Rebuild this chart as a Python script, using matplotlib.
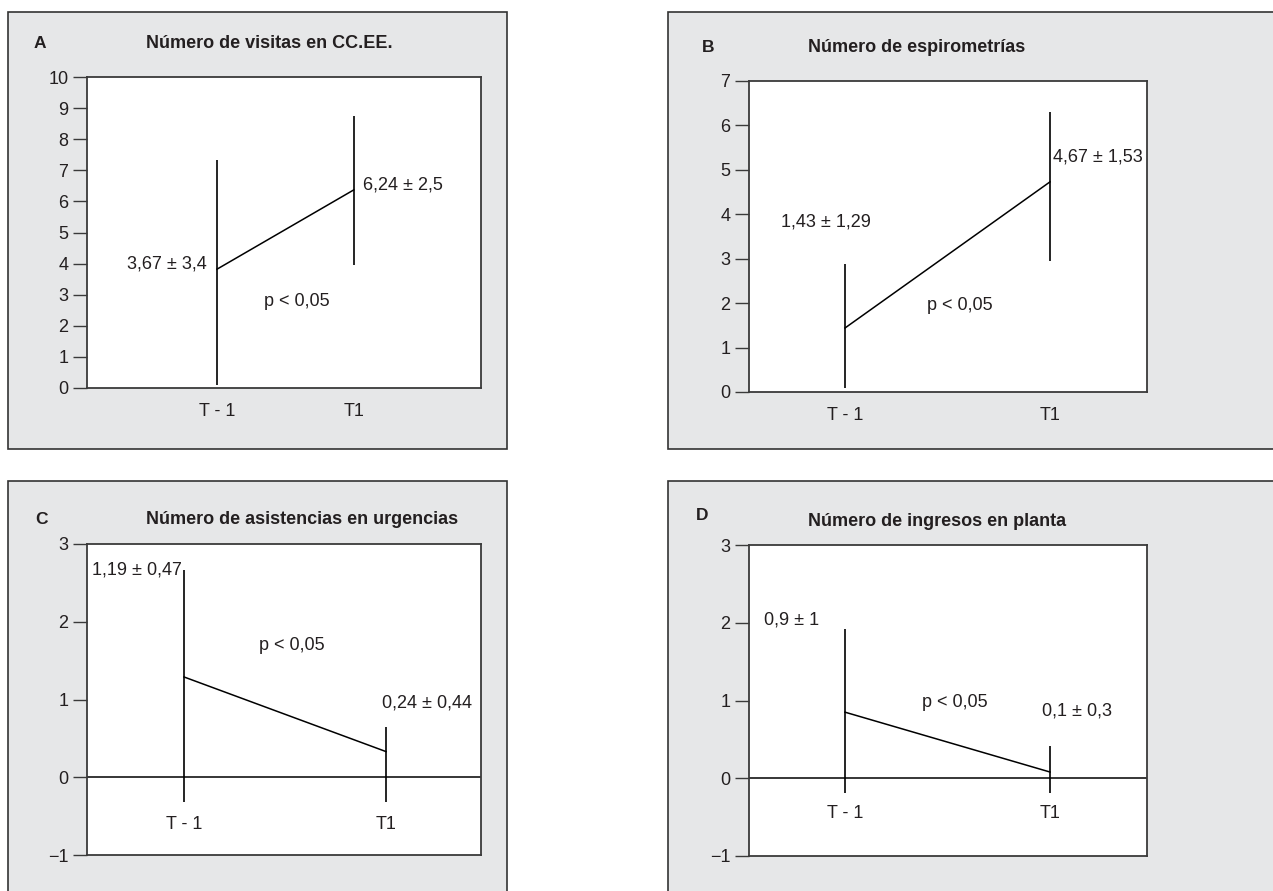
import matplotlib.pyplot as plt
from matplotlib.patches import Rectangle

W, H = 1273, 891

plt.rcParams['font.family'] = ['Liberation Sans', 'DejaVu Sans']

x_pos = [1, 2]
x_labels = ["T - 1", "T1"]

# A - visitas
a_title = "Número de visitas en CC.EE."
a_mean = [3.82, 6.37]
a_low = [0.1, 3.95]
a_high = [7.33, 8.74]
a_text = ["3,67 ± 3,4", "6,24 ± 2,5"]

# B - espirometrias
b_title = "Número de espirometrías"
b_mean = [1.44, 4.73]
b_low = [0.09, 2.95]
b_high = [2.88, 6.3]
b_text = ["1,43 ± 1,29", "4,67 ± 1,53"]

# C - urgencias
c_title = "Número de asistencias en urgencias"
c_mean = [1.29, 0.33]
c_low = [-0.32, -0.32]
c_high = [2.67, 0.65]
c_text = ["1,19 ± 0,47", "0,24 ± 0,44"]

# D - ingresos
d_title = "Número de ingresos en planta"
d_mean = [0.85, 0.08]
d_low = [-0.19, -0.19]
d_high = [1.92, 0.415]
d_text = ["0,9 ± 1", "0,1 ± 0,3"]

p_text = "p < 0,05"

TXT = '#231f20'
FS = 13

fig = plt.figure(figsize=(W / 100, H / 100), dpi=100)
fig.patch.set_facecolor('white')


def px(x, y):
    return x / W, 1 - y / H


def box(x0, y0, x1, y1):
    fx, fy = px(x0, y1)
    fig.patches.append(Rectangle((fx, fy), (x1 - x0) / W, (y1 - y0) / H,
                                 transform=fig.transFigure, facecolor='#e6e7e8',
                                 edgecolor='#333333', linewidth=1.2, zorder=-5))


def make_axes(x0, y0, x1, y1):
    fx, fy = px(x0, y1)
    ax = fig.add_axes([fx, fy, (x1 - x0) / W, (y1 - y0) / H])
    ax.set_facecolor('white')
    for s in ax.spines.values():
        s.set_color('#3a3a3a')
        s.set_linewidth(1.3)
    ax.tick_params(axis='y', length=10, width=1, color='#3a3a3a', pad=3.5,
                   labelsize=FS, labelcolor=TXT)
    return ax


def draw(ax, mean, low, high, xlim, ylim, yticks):
    ax.vlines(x_pos, low, high, color='black', linewidth=1.2, zorder=3)
    ax.plot(x_pos, mean, color='black', linewidth=1.1, zorder=3)
    ax.set_xlim(*xlim)
    ax.set_ylim(*ylim)
    ax.set_yticks(yticks)


def label(ax, x, y, s, ha='center'):
    ax.text(x, y, s, ha=ha, va='center', fontsize=FS, color=TXT, clip_on=False)


def heading(lx, ly, tx, ty, letter, title):
    fig.text(lx / W, 1 - ly / H, letter, ha='left', va='center',
             fontsize=12.5, fontweight='bold', color=TXT)
    fig.text(tx / W, 1 - ty / H, title, ha='left', va='center',
             fontsize=13, fontweight='bold', color=TXT)


# panel boxes
box(8, 12, 507, 449)
box(668, 12, 1290, 449)
box(8, 481, 507, 910)
box(668, 481, 1290, 910)

# A
ax = make_axes(87, 77, 481, 388)
draw(ax, a_mean, a_low, a_high, (0.05, 2.93), (0, 10), range(0, 11))
ax.set_xticks(x_pos)
ax.set_xticklabels(x_labels)
ax.tick_params(axis='x', length=0, pad=11, labelsize=FS, labelcolor=TXT)
label(ax, 0.927, 3.99, a_text[0], ha='right')
label(ax, 2.066, 6.53, a_text[1], ha='left')
label(ax, 1.58, 2.77, p_text)
heading(34, 43, 146, 43, "A", a_title)

# B
ax = make_axes(749, 81, 1147, 392)
draw(ax, b_mean, b_low, b_high, (0.532, 2.473), (0, 7), range(0, 8))
ax.set_xticks(x_pos)
ax.set_xticklabels(x_labels)
ax.tick_params(axis='x', length=0, pad=11, labelsize=FS, labelcolor=TXT)
label(ax, 0.907, 3.83, b_text[0])
label(ax, 2.015, 5.3, b_text[1], ha='left')
label(ax, 1.56, 1.94, p_text)
heading(702, 47, 808, 47, "B", b_title)

# C
ax = make_axes(87, 544, 481, 855)
draw(ax, c_mean, c_low, c_high, (0.52, 2.47), (-1, 3), range(-1, 4))
ax.axhline(0, color='black', linewidth=1.1, zorder=2)
ax.set_xticks([])
for xp, xl in zip(x_pos, x_labels):
    label(ax, xp, -0.614, xl)
label(ax, 0.99, 2.67, c_text[0], ha='right')
label(ax, 1.98, 0.955, c_text[1], ha='left')
label(ax, 1.535, 1.69, p_text)
heading(35, 520, 146, 520, "C", c_title)

# D
ax = make_axes(749, 545, 1147, 856)
draw(ax, d_mean, d_low, d_high, (0.532, 2.473), (-1, 3), range(-1, 4))
ax.axhline(0, color='black', linewidth=1.1, zorder=2)
ax.set_xticks([])
for xp, xl in zip(x_pos, x_labels):
    label(ax, xp, -0.447, xl)
label(ax, 0.74, 2.03, d_text[0])
label(ax, 2.13, 0.865, d_text[1])
label(ax, 1.537, 0.98, p_text)
heading(696, 516, 808, 522, "D", d_title)

plt.savefig("out.png", dpi=100)
